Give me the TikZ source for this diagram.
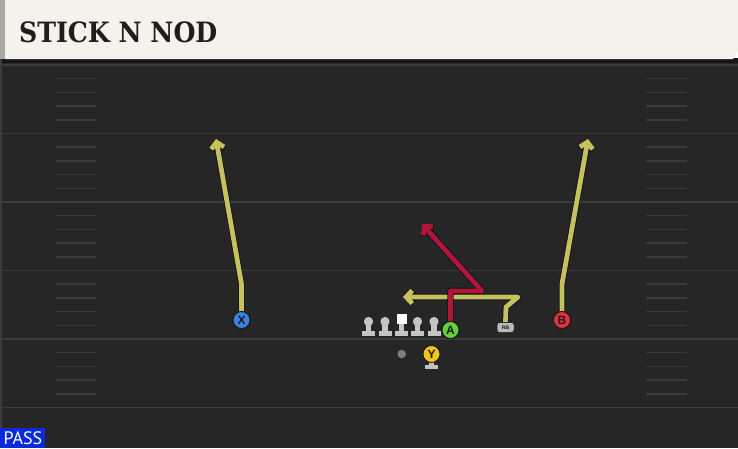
\documentclass[tikz,border=0pt]{standalone}
\usepackage{fontspec}
\usetikzlibrary{arrows.meta}
\newfontfamily\titlefont{DejaVu Serif}
\newfontfamily\passfont{PT Sans}
\newfontfamily\tokfont{Liberation Sans}
\definecolor{fieldbg}{HTML}{262626}
\definecolor{fieldline}{HTML}{3C3C3C}
\definecolor{hashcol}{HTML}{3A3A3A}
\definecolor{cream}{HTML}{F5F2EB}
\definecolor{stripgray}{HTML}{A6A8A4}
\definecolor{shadowcol}{HTML}{161616}
\definecolor{titleink}{HTML}{1E1E1E}
\definecolor{passblue}{HTML}{0B2BDA}
\definecolor{routeyellow}{RGB}{197,193,92}
\definecolor{routered}{RGB}{176,22,56}
\definecolor{routeline}{HTML}{0E0E1A}
\definecolor{tokline}{HTML}{151515}
\definecolor{tokink}{HTML}{1A1A1A}
\definecolor{xblue}{HTML}{3D80DE}
\definecolor{bred}{HTML}{E0323C}
\definecolor{agreen}{HTML}{62D03C}
\definecolor{yyellow}{HTML}{F2C31C}
\definecolor{linegray}{HTML}{C4C4C4}
\definecolor{rbgray}{HTML}{B8B8B8}
\definecolor{ballgray}{HTML}{7D7D7D}
\begin{document}
\begin{tikzpicture}[x=1pt,y=-1pt,
  token/.style={circle, draw=tokline, line width=0.8pt, minimum size=17pt, inner sep=0pt,
    font=\tokfont\bfseries\fontsize{12}{12}\selectfont, text=tokink},
  route/.style={line width=4.8pt, line join=round,
    preaction={draw=routeline, line width=6.4pt, line join=round}},
  tip/.style={-{Straight Barb[length=6pt,width=13pt]}},
  fieldrule/.style={draw=fieldline, line width=1.8pt},
  hashmark/.style={draw=hashcol, line width=1.5pt},
  lineman/.pic={
    \fill[linegray] (-2.6,0) rectangle (2.6,11);
    \fill[linegray] (0,0) circle (4.6);
    \fill[linegray] (-6.5,9.8) rectangle (6.5,14.2);
  },
  centerman/.pic={
    \fill[white] (-5,-7.5) rectangle (5,2.5);
    \fill[linegray] (-2.6,2.5) rectangle (2.6,11);
    \fill[linegray] (-6.5,9.8) rectangle (6.5,14.2);
  }]
\useasboundingbox (0,0) rectangle (738,448);
% field
\fill[fieldbg] (0,59) rectangle (738,448);
\fill[shadowcol] (0,58) rectangle (738,63);
\draw[draw=fieldline, line width=1.5pt] (1,59) -- (1,448);
\foreach \yy in {65,133.5,202,270.5,339,407.5}
  \draw[fieldrule] (2,\yy) -- (738,\yy);
\foreach \yy in {65,133.5,202,270.5,339}{
  \foreach \k in {1,2,3,4}{
    \draw[hashmark] (56,\yy+13.7*\k) -- (96,\yy+13.7*\k);
    \draw[hashmark] (646,\yy+13.7*\k) -- (687,\yy+13.7*\k);
  }
}
% header
\fill[stripgray] (0,0) rectangle (5,59);
\fill[cream] (5,0) -- (738,0) -- (738,51) -- (733,59) -- (5,59) -- cycle;
\node[anchor=base west, inner sep=0pt, text=titleink,
  font=\titlefont\bfseries\fontsize{28}{28}\selectfont] (title) at (19,42) {\scalebox{0.9}[1]{STICK N NOD}};
% pass label
\node[anchor=north west, fill=passblue, minimum width=45pt, minimum height=20pt, inner sep=0pt] (passbox) at (0,428) {};
\node[anchor=base west, inner sep=0pt, text=white,
  font=\passfont\fontsize{18}{18}\selectfont] (passtext) at (3.5,444.5) {PASS};
% players
\node[token, fill=xblue] (X) at (241.5,320) {X};
\node[token, fill=bred] (B) at (562,320) {B};
\node[token, fill=agreen] (A) at (450.5,330) {A};
\node[rectangle, rounded corners=2.5pt, fill=rbgray, draw=tokline, line width=0.5pt,
  minimum width=17pt, minimum height=10pt, inner sep=0pt,
  font=\tokfont\bfseries\fontsize{5}{5}\selectfont, text=tokink] (RB) at (505.5,327.5) {RB};
% route waypoints
\coordinate (xbend) at (241.5,284);
\coordinate (xend) at (216,139);
\coordinate (bbend) at (562,284);
\coordinate (bend) at (588,139);
\coordinate (rb1) at (506,307);
\coordinate (rb2) at (518,297);
\coordinate (rbend) at (403,297);
\coordinate (a1) at (450.5,291);
\coordinate (a2) at (482,291);
\coordinate (aend) at (422,224);
% routes
\draw[route, tip, draw=routeyellow] (X.north) -- (xbend) -- (xend);
\draw[route, tip, draw=routeyellow] (B.north) -- (bbend) -- (bend);
\draw[route, tip, draw=routeyellow] (RB.north) -- (rb1) -- (rb2) -- (rbend);
\draw[route, tip, draw=routered] (A.north) -- (a1) -- (a2) -- (aend);
% redraw tokens on top
\node[token, fill=xblue] at (X) {X};
\node[token, fill=bred] at (B) {B};
\node[token, fill=agreen] at (A) {A};
\node[rectangle, rounded corners=2.5pt, fill=rbgray, draw=tokline, line width=0.5pt,
  minimum width=17pt, minimum height=10pt, inner sep=0pt,
  font=\tokfont\bfseries\fontsize{5}{5}\selectfont, text=tokink] at (RB) {RB};
% offensive line
\pic at (368.5,321.5) {lineman};
\pic at (385,321.5) {lineman};
\pic at (401.7,321.5) {centerman};
\pic at (417.5,321.5) {lineman};
\pic at (434,321.5) {lineman};
% ball and Y
\node[circle, fill=ballgray, minimum size=8.5pt, inner sep=0pt] (ball) at (401.7,354) {};
\fill[linegray] (429,358) rectangle (434,366);
\fill[linegray] (424.7,364.5) rectangle (438,368.5);
\node[token, fill=yyellow] (Y) at (431.5,354) {Y};
\end{tikzpicture}
\end{document}
